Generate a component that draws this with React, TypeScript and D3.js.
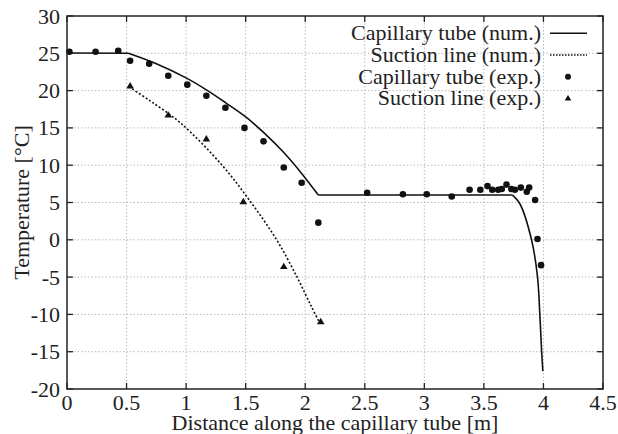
import React from "react";
import * as d3 from "d3";

const xTicks = [0, 0.5, 1, 1.5, 2, 2.5, 3, 3.5, 4, 4.5];
const yTicks = [-20, -15, -10, -5, 0, 5, 10, 15, 20, 25, 30];

// capillary tube (numerical): flat inlet, curved cooling, flat plateau, final drop
const capFlat1X = [0, 0.515];
const capFlat1Y = [25.05, 25.0];
const capCurve1X = [0.515, 0.75, 1.0, 1.17, 1.33, 1.49, 1.65, 1.82, 1.97, 2.11];
const capCurve1Y = [25.0, 23.6, 21.7, 20.1, 18.4, 16.6, 14.4, 11.7, 8.9, 6.0];
const capFlat2X = [2.11, 3.74];
const capFlat2Y = [6.0, 6.0];
const capCurve2X = [3.74, 3.80, 3.90, 3.95, 3.97, 3.985, 3.995];
const capCurve2Y = [6.0, 4.9, 0.0, -4.95, -10.1, -15.0, -17.6];

const sucNumX = [0.52, 0.7, 0.95, 1.30, 1.55, 1.76, 1.93, 2.05, 2.12];
const sucNumY = [20.5, 18.6, 15.7, 10.03, 4.9, 0.0, -4.95, -8.9, -11.1];

const capExpX = [0.02, 0.24, 0.43, 0.53, 0.69, 0.85, 1.01, 1.17, 1.33, 1.49, 1.65, 1.82, 1.97, 2.11, 2.52, 2.82, 3.02, 3.23, 3.38, 3.47, 3.53, 3.57, 3.62, 3.65, 3.69, 3.73, 3.76, 3.81, 3.86, 3.88, 3.93, 3.95, 3.98];
const capExpY = [25.2, 25.2, 25.35, 24.0, 23.6, 22.0, 20.8, 19.3, 17.7, 15.0, 13.2, 9.7, 7.65, 2.3, 6.3, 6.1, 6.1, 5.8, 6.7, 6.7, 7.2, 6.7, 6.7, 6.8, 7.4, 6.8, 6.7, 7.0, 6.45, 7.0, 5.33, 0.1, -3.4];

const sucExpX = [0.53, 0.85, 1.17, 1.48, 1.82, 2.13];
const sucExpY = [20.6, 16.7, 13.5, 5.1, -3.6, -11.0];

const legendLabels = ["Capillary tube (num.)", "Suction line (num.)", "Capillary tube (exp.)", "Suction line (exp.)"];

const W = 618, H = 434;
const L = 67, R = 603, T = 16, B = 389;
const font = "Liberation Serif, DejaVu Serif, Times New Roman, serif";

export default function App() {
  const x = d3.scaleLinear().domain([0, 4.5]).range([L, R]);
  const y = d3.scaleLinear().domain([-20, 30]).range([B, T]);
  const straight = d3.line<[number, number]>().x(d => x(d[0])).y(d => y(d[1]));
  const smooth = d3.line<[number, number]>().x(d => x(d[0])).y(d => y(d[1])).curve(d3.curveCatmullRom.alpha(0.5));
  const zip = (a: number[], b: number[]) => a.map((v, i) => [v, b[i]] as [number, number]);
  const capD =
    (straight(zip(capFlat1X, capFlat1Y)) || "") +
    (smooth(zip(capCurve1X, capCurve1Y)) || "") +
    (straight(zip(capFlat2X, capFlat2Y)) || "") +
    (smooth(zip(capCurve2X, capCurve2Y)) || "");
  const sucD = smooth(zip(sucNumX, sucNumY)) || "";
  const tri = (cx: number, cy: number, s: number) =>
    `M${cx},${cy - s}L${cx + s * 0.95},${cy + s * 0.6}L${cx - s * 0.95},${cy + s * 0.6}Z`;
  const tl = 6;
  const txt = { fontFamily: font };
  return (
    <svg width={W} height={H} style={{ position: "absolute", left: 0, top: 0, background: "#fff", fontFamily: font }}>
      {xTicks.slice(1, -1).map(t => (
        <line key={"gx" + t} x1={x(t)} x2={x(t)} y1={T} y2={B} stroke="#aaa" strokeWidth={0.8} strokeDasharray="1.5,2" />
      ))}
      {yTicks.slice(1, -1).map(t => (
        <line key={"gy" + t} x1={L} x2={R} y1={y(t)} y2={y(t)} stroke="#aaa" strokeWidth={0.8} strokeDasharray="1.5,2" />
      ))}
      {xTicks.map(t => (
        <g key={"tx" + t}>
          <line x1={x(t)} x2={x(t)} y1={B} y2={B - tl} stroke="#222" strokeWidth={1.3} />
          <line x1={x(t)} x2={x(t)} y1={T} y2={T + tl} stroke="#222" strokeWidth={1.3} />
          <text x={x(t)} y={410} textAnchor="middle" fontSize={22} fill="#222" style={txt}>{t}</text>
        </g>
      ))}
      {yTicks.map(t => (
        <g key={"ty" + t}>
          <line x1={L} x2={L + tl} y1={y(t)} y2={y(t)} stroke="#222" strokeWidth={1.3} />
          <line x1={R} x2={R - tl} y1={y(t)} y2={y(t)} stroke="#222" strokeWidth={1.3} />
          <text x={60} y={y(t) + 7.5} textAnchor="end" fontSize={22} fill="#222" style={txt}>{t}</text>
        </g>
      ))}
      <path d={capD} fill="none" stroke="#111" strokeWidth={1.6} />
      <path d={sucD} fill="none" stroke="#111" strokeWidth={1.6} strokeDasharray="2,2" />
      {capExpX.map((v, i) => (
        <circle key={"c" + i} cx={x(v)} cy={y(capExpY[i])} r={3.3} fill="#111" />
      ))}
      {sucExpX.map((v, i) => (
        <path key={"s" + i} d={tri(x(v), y(sucExpY[i]), 4)} fill="#111" />
      ))}
      {legendLabels.map((lab, i) => {
        const ly = 33.3 + i * 21.7;
        return (
          <g key={"lg" + i}>
            <text x={541} y={ly + 7} textAnchor="end" fontSize={22} fill="#222" style={txt}>{lab}</text>
            {i === 0 && <line x1={550} x2={587} y1={ly} y2={ly} stroke="#111" strokeWidth={1.6} />}
            {i === 1 && <line x1={550} x2={587} y1={ly} y2={ly} stroke="#111" strokeWidth={1.4} strokeDasharray="1.5,1.5" />}
            {i === 2 && <circle cx={568} cy={ly} r={3} fill="#111" />}
            {i === 3 && <path d={tri(568, ly, 3.5)} fill="#111" />}
          </g>
        );
      })}
      <rect x={L} y={T} width={R - L} height={B - T} fill="none" stroke="#222" strokeWidth={1.5} />
      <text x={(L + R) / 2} y={430} textAnchor="middle" fontSize={22} fill="#222" style={txt}>Distance along the capillary tube [m]</text>
      <text transform={`translate(29,${(T + B) / 2}) rotate(-90)`} textAnchor="middle" fontSize={22} fill="#222" style={txt}>Temperature [°C]</text>
    </svg>
  );
}
